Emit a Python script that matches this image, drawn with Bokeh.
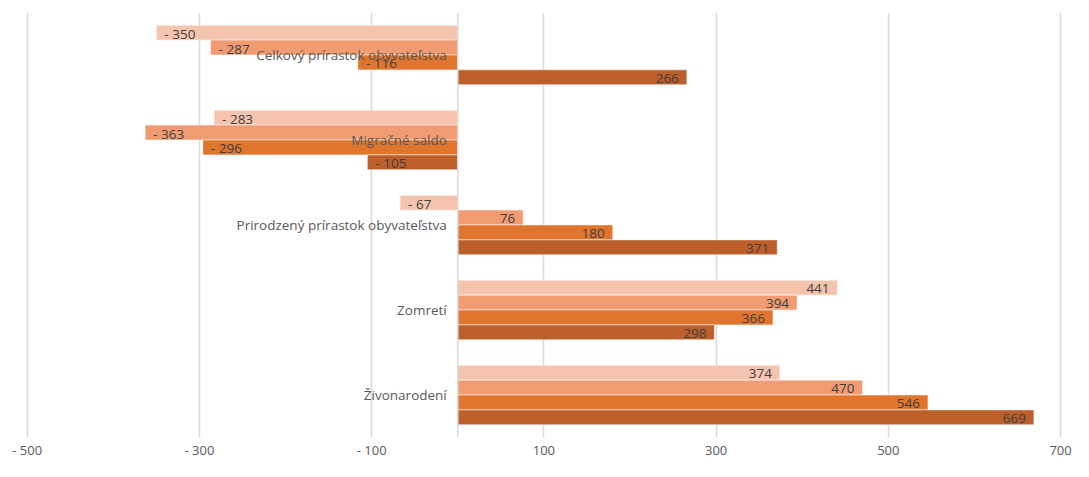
from bokeh.plotting import figure
from bokeh.models import ColumnDataSource, FactorRange, FixedTicker, Span
from bokeh.transform import dodge
from bokeh.core.properties import value
from bokeh.embed import file_html
from bokeh.resources import INLINE

categories = ["Celkový prírastok obyvateľstva", "Migračné saldo",
              "Prirodzený prírastok obyvateľstva", "Zomretí", "Živonarodení"]
series_1 = [-350, -283, -67, 441, 374]
series_2 = [-287, -363, 76, 394, 470]
series_3 = [-116, -296, 180, 366, 546]
series_4 = [266, -105, 371, 298, 669]
x_ticks = [-500, -300, -100, 100, 300, 500, 700]
colors = ["#F5C4AF", "#F09B71", "#E0752D", "#BC5F2A"]

FONT = "Open Sans"


def fmt(v):
    return "- %d" % abs(v) if v < 0 else "%d" % v


y_range = FactorRange(factors=list(reversed(categories)), range_padding=0)
p = figure(width=1073, height=461, y_range=y_range, x_range=(-531, 715),
           output_backend="svg", toolbar_location=None,
           min_border_top=12, min_border_left=0, min_border_right=0, min_border_bottom=0)
p.outline_line_color = None
p.background_fill_color = "white"

all_series = [series_1, series_2, series_3, series_4]
bar_h = 0.175
for j, (vals, col) in enumerate(zip(all_series, colors)):
    off = (1.5 - j) * bar_h
    src = ColumnDataSource(dict(
        cat=categories, val=vals,
        pos_lbl=[fmt(v) if v >= 0 else "" for v in vals],
        neg_lbl=[fmt(v) if v < 0 else "" for v in vals],
    ))
    ydodge = dodge("cat", off, range=p.y_range)
    p.hbar(y=ydodge, left=0, right="val", height=bar_h, source=src,
           fill_color=col, line_color="white", line_alpha=0.5, line_width=1)
    ylab = dodge("cat", off - 0.012, range=p.y_range)
    p.text(x="val", y=ylab, text="pos_lbl", source=src,
           text_align="right", text_baseline="middle", x_offset=-8,
           text_font=value(FONT), text_font_size="13.5px", text_color="#404040")
    p.text(x="val", y=ylab, text="neg_lbl", source=src,
           text_align="left", text_baseline="middle", x_offset=8,
           text_font=value(FONT), text_font_size="13.5px", text_color="#404040")

cat_src = ColumnDataSource(dict(cat=categories, x=[0] * len(categories)))
p.text(x="x", y="cat", text="cat", source=cat_src, text_align="right",
       text_baseline="middle", x_offset=-11, text_font=value(FONT),
       text_font_size="13.5px", text_color="#595959")

p.add_layout(Span(location=0, dimension="height", line_color="#D9D9D9", line_width=1.5))

p.yaxis.visible = False
p.ygrid.grid_line_color = None
p.xaxis.ticker = FixedTicker(ticks=x_ticks)
p.xaxis.major_label_overrides = {t: fmt(t) for t in x_ticks}
p.xaxis.axis_line_color = None
p.xaxis.major_tick_line_color = None
p.xaxis.minor_tick_line_color = None
p.xaxis.major_tick_out = 0
p.xaxis.major_tick_in = 0
p.xaxis.major_label_standoff = 3
p.xaxis.major_label_text_font = FONT
p.xaxis.major_label_text_font_size = "13px"
p.xaxis.major_label_text_color = "#595959"
p.xgrid.grid_line_color = "#D9D9D9"
p.xgrid.grid_line_width = 1.5
p.xgrid.ticker = FixedTicker(ticks=x_ticks)

open("out.html", "w").write(file_html(p, INLINE))
